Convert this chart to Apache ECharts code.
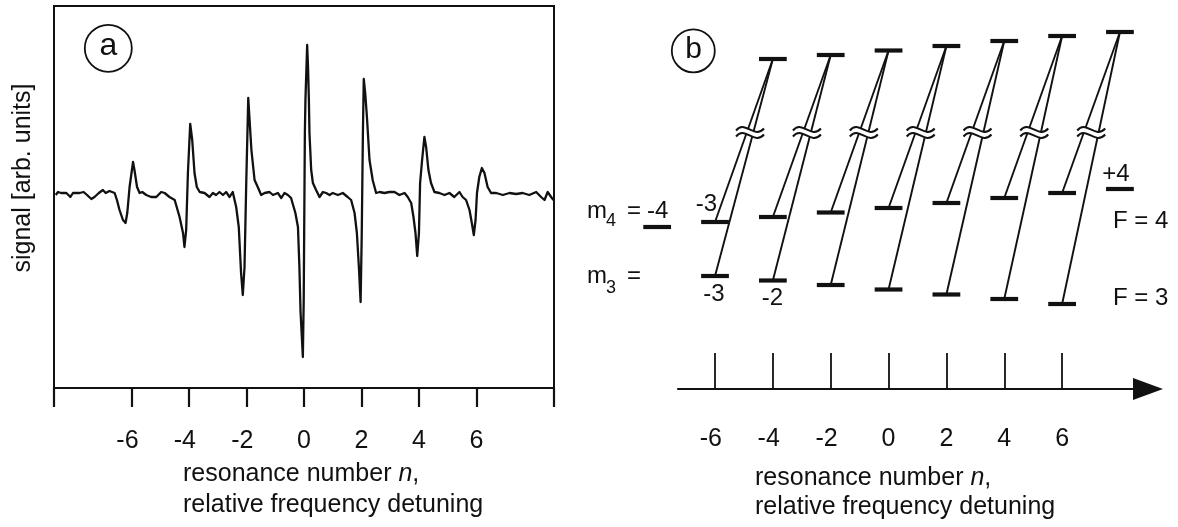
<!DOCTYPE html>
<html>
<head>
<meta charset="utf-8">
<script src="https://cdn.jsdelivr.net/npm/echarts@6/dist/echarts.min.js"></script>
<style>
html, body { margin: 0; padding: 0; background: #fff; }
#chart { width: 1178px; height: 527px; }
</style>
</head>
<body>
<div id="chart"></div>
<script>
///// DATA /////

// (a) measured signal, resonance number n vs. signal [arb. units]
var sigN = [-8.64,-8.56,-8.45,-8.27,-8.13,-8.04,-7.81,-7.67,-7.55,-7.40,
  -7.29,-7.14,-7.00,-6.90,-6.77,-6.59,-6.51,-6.42,-6.30,-6.21,
  -6.15,-6.07,-5.95,-5.90,-5.81,-5.72,-5.63,-5.49,-5.32,-5.14,
  -4.97,-4.85,-4.68,-4.50,-4.33,-4.21,-4.16,-4.10,-4.04,-3.96,
  -3.89,-3.81,-3.73,-3.63,-3.46,-3.29,-3.17,-3.06,-2.94,-2.82,
  -2.71,-2.59,-2.48,-2.36,-2.27,-2.19,-2.13,-2.07,-2.01,-1.94,
  -1.90,-1.83,-1.72,-1.61,-1.49,-1.37,-1.20,-1.08,-0.91,-0.79,
  -0.68,-0.56,-0.45,
  -0.39,-0.30,-0.21,-0.16,-0.12,-0.04,-0.01,0.03,0.05,0.11,
  0.14,0.17,0.19,0.25,0.31,0.42,0.54,0.66,0.77,0.89,
  1.00,1.18,1.35,1.52,1.64,1.76,1.84,1.91,1.97,2.01,
  2.05,2.08,2.13,2.19,2.28,2.39,2.51,2.63,2.80,2.97,
  3.15,3.32,3.50,3.61,3.73,3.81,3.88,3.94,4.00,4.04,
  4.11,4.19,4.25,4.33,4.42,4.54,4.71,4.89,5.06,5.23,
  5.41,5.52,5.64,5.76,5.84,5.91,5.97,6.02,6.10,6.19,
  6.28,6.39,6.51,6.69,6.92,7.15,7.38,7.61,7.84,8.08,
  8.25,8.37,8.48,8.60,8.68];
var sigS = [-1,2,1,1,-3,1,1,2,-1,-5,
  -3,1,4,1,3,1,-6,-16,-26,-29,
  -19,7,32,24,7,1,2,-1,-3,-3,
  2,1,-3,-6,-23,-39,-53,-36,21,70,
  54,21,7,2,1,-3,1,-1,2,-1,
  2,-3,2,-13,-33,-79,-101,-73,11,96,
  77,44,14,7,-1,1,2,-1,1,-4,
  1,-1,-4,
  -6,-19,-33,-73,-118,-163,-106,61,94,149,
  127,94,61,24,11,4,-3,2,1,-1,
  1,-1,1,-3,-6,-19,-39,-73,-108,-39,
  61,115,101,77,34,14,1,2,1,2,
  2,-1,1,-3,-9,-23,-39,-62,-39,11,
  34,57,47,24,11,2,1,-1,1,-3,
  2,-3,-6,-16,-29,-41,-26,1,17,26,
  21,7,1,1,-1,1,0,1,-1,2,
  -3,-6,2,-3,-6];
var ticksA = [-8.7, -6, -4, -2, 0, 2, 4, 6, 8.7];
var labelsA = [-6, -4, -2, 0, 2, 4, 6];

// (b) level scheme: position n and energy of each sublevel
var nF3 = [-6, -4, -2, 0, 2, 4, 6];            // F = 3, m3 = -3 .. +3
var eF3 = [113, 108.5, 104, 99.5, 94.5, 90, 85];
var nF4 = [-8, -6, -4, -2, 0, 2, 4, 6, 8];     // F = 4, m4 = -4 .. +4
var eF4 = [162, 167, 172, 176.5, 181, 186, 191, 196, 200];
var nUp = [-4, -2, 0, 2, 4, 6, 8];             // upper level, m = -2 .. +4
var eUp = [330, 334, 338.5, 343, 348, 353, 357];
var eBreak = 256.5;
var labelsB = [-6, -4, -2, 0, 2, 4, 6];

///// STYLE /////
var FONT = '"Liberation Sans", Arial, Helvetica, sans-serif';
var INK = '#111';
var LEVEL_W = 0.96;

var sigData = [];
for (var i = 0; i < sigN.length; i++) sigData.push([sigN[i], sigS[i]]);

var levelData = [];
for (i = 0; i < nF3.length; i++) levelData.push([nF3[i], eF3[i]]);
for (i = 0; i < nF4.length; i++) levelData.push([nF4[i], eF4[i]]);
for (i = 0; i < nUp.length; i++) levelData.push([nUp[i], eUp[i]]);

// each upper level decays to the F=4 and F=3 sublevels one step to the left
var transData = [];
var breakData = [];
for (i = 0; i < nUp.length; i++) {
  transData.push([nUp[i], eUp[i], nF4[i + 1], eF4[i + 1]]);
  transData.push([nUp[i], eUp[i], nF3[i], eF3[i]]);
  breakData.push([nUp[i], eUp[i], nF3[i], eF4[i + 1], eF3[i], eBreak]);
}

function negPad(v) {
  return v < 0 ? v + '{h|-}' : String(v);
}

function renderLevel(params, api) {
  var p = api.coord([api.value(0), api.value(1)]);
  var w = api.size([LEVEL_W, 0])[0];
  return {
    type: 'rect',
    shape: { x: p[0] - w / 2, y: p[1] - 2.1, width: w, height: 4.2 },
    style: { fill: INK }
  };
}

function renderTrans(params, api) {
  var a = api.coord([api.value(0), api.value(1)]);
  var b = api.coord([api.value(2), api.value(3)]);
  return {
    type: 'line',
    shape: { x1: a[0], y1: a[1], x2: b[0], y2: b[1] },
    style: { stroke: INK, lineWidth: 1.9 }
  };
}

function renderBreak(params, api) {
  var top = api.coord([api.value(0), api.value(1)]);
  var e4 = api.coord([api.value(2), api.value(3)]);
  var e3 = api.coord([api.value(2), api.value(4)]);
  var yb = api.coord([api.value(0), api.value(5)])[1];
  var x4 = top[0] + (e4[0] - top[0]) * (yb - top[1]) / (e4[1] - top[1]);
  var x3 = top[0] + (e3[0] - top[0]) * (yb - top[1]) / (e3[1] - top[1]);
  var xc = (x4 + x3) / 2;
  function wave(y0) {
    return 'M' + (xc - 14) + ' ' + (y0 + 1) +
      ' C' + (xc - 5) + ' ' + (y0 - 10) + ' ' + (xc + 4) + ' ' + (y0 + 10) + ' ' + (xc + 14) + ' ' + (y0 - 1);
  }
  function waveBack(y0) {
    return ' L' + (xc + 14) + ' ' + (y0 - 1) +
      ' C' + (xc + 4) + ' ' + (y0 + 10) + ' ' + (xc - 5) + ' ' + (y0 - 10) + ' ' + (xc - 14) + ' ' + (y0 + 1) + ' Z';
  }
  var yu = yb - 3, yl = yb + 3;
  return {
    type: 'group',
    children: [
      { type: 'path', shape: { pathData: wave(yu) + waveBack(yl) }, style: { fill: '#fff', stroke: null } },
      { type: 'path', shape: { pathData: wave(yu) }, style: { fill: null, stroke: INK, lineWidth: 2 } },
      { type: 'path', shape: { pathData: wave(yl) }, style: { fill: null, stroke: INK, lineWidth: 2 } }
    ]
  };
}

function txt(x, y, s, size, align, extra) {
  var o = {
    type: 'text', x: x, y: y,
    style: {
      text: s, fontSize: size, fontFamily: FONT, fill: INK,
      align: align || 'left', verticalAlign: 'middle'
    }
  };
  if (extra) for (var k in extra) o[k] = extra[k];
  return o;
}

var richN = { i: { fontStyle: 'italic', fontSize: 25, fontFamily: FONT, fill: INK } };

var myChart = echarts.init(document.getElementById('chart'));

myChart.setOption({
  animation: false,
  grid: [
    { left: 54, top: 6, width: 500, height: 382, show: true, borderColor: INK, borderWidth: 2 },
    { left: 678, top: 10, width: 470, height: 379 }
  ],
  xAxis: [
    {
      gridIndex: 0, type: 'value', min: -8.7, max: 8.7,
      axisLine: { show: true, onZero: false, lineStyle: { color: INK, width: 2 } },
      axisTick: { show: true, inside: false, length: 19, customValues: ticksA, lineStyle: { color: INK, width: 2.2 } },
      axisLabel: {
        customValues: labelsA, margin: 41, fontSize: 25, color: INK, fontFamily: FONT,
        formatter: negPad, rich: { h: { color: 'rgba(0,0,0,0)', fontSize: 25, fontFamily: FONT } }
      },
      splitLine: { show: false }
    },
    {
      gridIndex: 1, type: 'value', min: -7.28, max: 8.97,
      axisLine: {
        show: true, onZero: false, symbol: ['none', 'triangle'], symbolSize: [22, 30],
        lineStyle: { color: INK, width: 2.2 }
      },
      axisTick: { show: true, inside: true, length: 36, customValues: labelsB, lineStyle: { color: INK, width: 1.8 } },
      axisLabel: {
        customValues: labelsB, margin: 38, fontSize: 25, color: INK, fontFamily: FONT,
        formatter: negPad, rich: { h: { color: 'rgba(0,0,0,0)', fontSize: 25, fontFamily: FONT } }
      },
      splitLine: { show: false }
    }
  ],
  yAxis: [
    { gridIndex: 0, type: 'value', min: -194, max: 188, show: false },
    { gridIndex: 1, type: 'value', min: 0, max: 379, show: false }
  ],
  series: [
    {
      type: 'line', xAxisIndex: 0, yAxisIndex: 0, data: sigData,
      showSymbol: false, symbol: 'none', smooth: false,
      lineStyle: { color: INK, width: 2.3, join: 'round' }, z: 3
    },
    { type: 'custom', xAxisIndex: 1, yAxisIndex: 1, data: transData, renderItem: renderTrans, clip: false, z: 2 },
    { type: 'custom', xAxisIndex: 1, yAxisIndex: 1, data: breakData, renderItem: renderBreak, clip: false, z: 4 },
    { type: 'custom', xAxisIndex: 1, yAxisIndex: 1, data: levelData, renderItem: renderLevel, clip: false, z: 5 }
  ],
  graphic: [
    { type: 'circle', shape: { cx: 108.3, cy: 48.3, r: 23.5 }, style: { fill: 'none', stroke: INK, lineWidth: 1.8 } },
    txt(108.5, 46, 'a', 32, 'center'),
    { type: 'circle', shape: { cx: 693.3, cy: 50.8, r: 21.5 }, style: { fill: 'none', stroke: INK, lineWidth: 1.8 } },
    txt(693.5, 49.5, 'b', 30, 'center'),

    txt(23, 178, 'signal [arb. units]', 25, 'center', { rotation: Math.PI / 2 }),
    { type: 'text', x: 183, y: 474, style: { text: 'resonance number {i|n},', rich: richN, fontSize: 25, fontFamily: FONT, fill: INK, align: 'left', verticalAlign: 'middle' } },
    txt(183, 505, 'relative frequency detuning', 25, 'left'),

    { type: 'text', x: 755, y: 478, style: { text: 'resonance number {i|n},', rich: richN, fontSize: 25, fontFamily: FONT, fill: INK, align: 'left', verticalAlign: 'middle' } },
    txt(755, 507, 'relative frequency detuning', 25, 'left'),

    txt(587, 211.6, 'm', 24, 'left'),
    txt(606, 220.7, '4', 18, 'left'),
    txt(627, 211.6, '=', 24, 'left'),
    txt(647, 211.6, '-4', 24, 'left'),
    txt(587, 276.6, 'm', 24, 'left'),
    txt(606, 287.7, '3', 18, 'left'),
    txt(627, 276.6, '=', 24, 'left'),

    txt(706.5, 204.6, '-3', 24, 'center'),
    txt(714, 294.6, '-3', 24, 'center'),
    txt(772.5, 298.6, '-2', 24, 'center'),
    txt(1116, 174.6, '+4', 24, 'center'),
    txt(1113, 221.6, 'F = 4', 24, 'left'),
    txt(1113, 298.6, 'F = 3', 24, 'left')
  ]
});
</script>
</body>
</html>
